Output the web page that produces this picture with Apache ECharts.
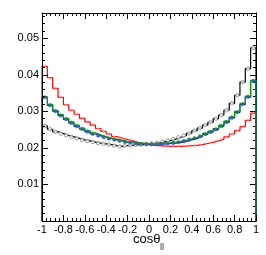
<!DOCTYPE html>
<html><head><meta charset="utf-8">
<script src="https://cdn.jsdelivr.net/npm/echarts@6/dist/echarts.min.js"></script>
<style>html,body{margin:0;padding:0;background:#fff}#c{width:266px;height:255px}</style>
</head><body><div id="c"></div>
<script>
// bin edges of cos(theta_ll), 40 bins from -1 to 1
const binEdges = [-1,-0.95,-0.9,-0.85,-0.8,-0.75,-0.7,-0.65,-0.6,-0.55,-0.5,-0.45,-0.4,-0.35,-0.3,-0.25,-0.2,-0.15,-0.1,-0.05,0,0.05,0.1,0.15,0.2,0.25,0.3,0.35,0.4,0.45,0.5,0.55,0.6,0.65,0.7,0.75,0.8,0.85,0.9,0.95,1];
const redVals = [0.0423,0.0392,0.0363,0.0338,0.0318,0.0303,0.0292,0.0281,0.0271,0.0262,0.0253,0.0245,0.0238,0.0231,0.0227,0.0223,0.0219,0.0215,0.0212,0.0209,0.0207,0.0206,0.0205,0.0204,0.0204,0.0204,0.0205,0.0206,0.0207,0.0209,0.0212,0.0215,0.0219,0.0224,0.0230,0.0238,0.0247,0.0258,0.0275,0.0295];
const greenVals = [0.0340,0.0319,0.0303,0.0291,0.0281,0.0271,0.0262,0.0254,0.0247,0.0241,0.0236,0.0231,0.0227,0.0224,0.0221,0.0218,0.0216,0.0214,0.0213,0.0212,0.0212,0.0212,0.0213,0.0214,0.0216,0.0218,0.0221,0.0225,0.0229,0.0234,0.0240,0.0246,0.0253,0.0262,0.0273,0.0285,0.0300,0.0322,0.0342,0.0385];
const blueVals = [0.0338,0.0316,0.0300,0.0288,0.0278,0.0268,0.0259,0.0251,0.0244,0.0238,0.0233,0.0229,0.0225,0.0222,0.0219,0.0216,0.0214,0.0212,0.0211,0.0210,0.0210,0.0210,0.0211,0.0212,0.0213,0.0215,0.0218,0.0222,0.0226,0.0231,0.0237,0.0243,0.0250,0.0259,0.0270,0.0282,0.0297,0.0319,0.0339,0.0383];
const blackVals = [0.0260,0.0251,0.0244,0.0239,0.0234,0.0230,0.0226,0.0222,0.0219,0.0216,0.0213,0.0211,0.0209,0.0206,0.0204,0.0206,0.0207,0.0208,0.0209,0.0210,0.0212,0.0214,0.0217,0.0220,0.0224,0.0229,0.0234,0.0240,0.0247,0.0254,0.0262,0.0270,0.0280,0.0290,0.0303,0.0322,0.0344,0.0380,0.0417,0.0474];
const xTickLabels = ['-1','-0.8','-0.6','-0.4','-0.2','0','0.2','0.4','0.6','0.8','1'];
const yTickLabels = ['0.01','0.02','0.03','0.04','0.05'];

function stepData(vals){
  const d = [[binEdges[0],0]];
  for (let i=0;i<vals.length;i++) d.push([binEdges[i], vals[i]]);
  d.push([binEdges[binEdges.length-1], vals[vals.length-1]]);
  d.push([binEdges[binEdges.length-1], 0]);
  return d;
}
function centers(vals){
  return vals.map((v,i)=>[(binEdges[i]+binEdges[i+1])/2, v]);
}
function hist(vals,color,w){
  return {type:'line', step:'end', data:stepData(vals), showSymbol:false, symbol:'none',
    lineStyle:{color:color,width:w}, animation:false, silent:true, z:3};
}
function marks(vals,symbol,size,color,fill){
  return {type:'scatter', data:centers(vals), symbol:symbol, symbolSize:size,
    itemStyle:{color:fill||color, borderColor:color, borderWidth:0.8}, animation:false, silent:true, z:4};
}
const font = 'Liberation Sans';
const tickStyle = {inside:true,length:6,lineStyle:{color:'#000'}};
const minorStyle = {show:true,splitNumber:5,length:3,lineStyle:{color:'#000'}};
const chart = echarts.init(document.getElementById('c'), null, {renderer:'canvas'});
chart.setOption({
  backgroundColor:'#fff',
  grid:{left:42, right:10, top:13, bottom:34},
  xAxis:[{type:'value', min:-1, max:1, interval:0.2, position:'bottom', z:10,
      axisLine:{onZero:false,lineStyle:{color:'#000',width:1}},
      axisTick:tickStyle, minorTick:minorStyle, splitLine:{show:false},
      axisLabel:{margin:3, color:'#000', fontSize:11, fontFamily:font,
        formatter:v=>{const i=Math.round((v+1)/0.2); return Math.abs(v-(-1+0.2*i))<1e-6? xTickLabels[i]:'';}}},
    {type:'value', min:-1, max:1, interval:0.2, position:'top',
      axisLine:{onZero:false,lineStyle:{color:'#000',width:1}},
      axisTick:tickStyle, minorTick:minorStyle, splitLine:{show:false}, axisLabel:{show:false}}],
  yAxis:[{type:'value', min:0, max:0.0569, interval:0.01, position:'left', z:10,
      axisLine:{show:true,onZero:false,lineStyle:{color:'#000',width:1}},
      axisTick:Object.assign({show:true},tickStyle), minorTick:minorStyle, splitLine:{show:false},
      axisLabel:{margin:3, color:'#000', fontSize:11, fontFamily:font,
        formatter:v=>{const i=Math.round(v/0.01); return (i>=1&&i<=5&&Math.abs(v-i*0.01)<1e-7)? yTickLabels[i-1]:'';}}},
    {type:'value', min:0, max:0.0569, interval:0.01, position:'right',
      axisLine:{show:true,onZero:false,lineStyle:{color:'#000',width:1}},
      axisTick:Object.assign({show:true},tickStyle), minorTick:minorStyle, splitLine:{show:false}, axisLabel:{show:false}}],
  series:[
    hist(blackVals,'#000',1.2),
    marks(blackVals,'circle',3.5,'#666','#fff'),
    hist(redVals,'#ff0000',1.2),
    marks(redVals,'path://M0,-1L0,1M-1,0L1,0',3,'#ff8080'),
    hist(blueVals,'#1010ff',1.2),
    marks(blueVals,'rect',2.5,'#4040ff'),
    hist(greenVals,'#00a000',1.2),
    marks(greenVals,'triangle',2.5,'#209020')
  ],
  graphic:[
    {type:'text', left:133, top:233, style:{text:'cosθ', font:'13px Liberation Sans', fill:'#000'}},
    {type:'text', left:160, top:242, style:{text:'||', font:'8px Liberation Sans', fill:'#000'}}
  ]
});
</script></body></html>
